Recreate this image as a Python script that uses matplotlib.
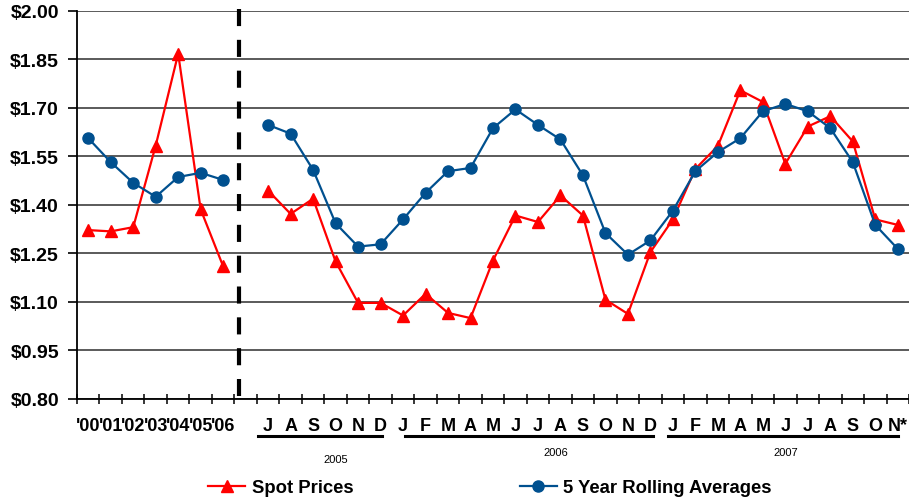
import matplotlib.pyplot as plt
import numpy as np

plt.rcParams['font.family'] = ['Liberation Sans', 'DejaVu Sans']

# categories: 7 annual values, a blank gap, then monthly values Jul 2005 - Nov 2007
year_labels = ["'00", "'01", "'02", "'03", "'04", "'05", "'06"]
month_labels = ["J", "A", "S", "O", "N", "D",
                "J", "F", "M", "A", "M", "J", "J", "A", "S", "O", "N", "D",
                "J", "F", "M", "A", "M", "J", "J", "A", "S", "O", "N*"]
labels = year_labels + [""] + month_labels

spot_years = [1.322, 1.318, 1.331, 1.583, 1.867, 1.386, 1.210]
avg_years = [1.606, 1.532, 1.468, 1.425, 1.486, 1.499, 1.477]

spot_months = [1.444, 1.372, 1.419, 1.225, 1.097, 1.097,
               1.058, 1.125, 1.066, 1.050, 1.228, 1.367, 1.347, 1.429, 1.367, 1.107, 1.063, 1.254,
               1.355, 1.511, 1.582, 1.754, 1.718, 1.527, 1.642, 1.674, 1.596, 1.355, 1.338]
avg_months = [1.647, 1.620, 1.508, 1.343, 1.271, 1.278,
              1.355, 1.437, 1.504, 1.514, 1.637, 1.695, 1.647, 1.602, 1.491, 1.313, 1.246, 1.290,
              1.382, 1.504, 1.563, 1.606, 1.689, 1.712, 1.689, 1.637, 1.532, 1.338, 1.264]

spot = np.array(spot_years + [np.nan] + spot_months)
avg = np.array(avg_years + [np.nan] + avg_months)
x = np.arange(len(labels))

red = '#FF0000'
blue = '#00508F'

fig = plt.figure(figsize=(9.09, 5.02), dpi=100)
ax = fig.add_axes([0.0847, 0.2032, 0.9153, 0.7735])

ax.plot(x, spot, color=red, lw=1.6, marker='^', markersize=9, label='Spot Prices', zorder=3)
ax.plot(x, avg, color=blue, lw=1.6, marker='o', markersize=8, label='5 Year Rolling Averages', zorder=4)

# divider between annual and monthly data (drawn top to bottom so dashes start at the top)
trans = ax.get_xaxis_transform()
ax.plot([6.72, 6.72], [1.005, 0.008], transform=trans, color='black', lw=3,
        linestyle=(0, (4.1, 3.3)), solid_capstyle='butt', dash_capstyle='butt',
        clip_on=False, zorder=5)

ax.set_xlim(-0.5, len(labels) - 0.5)
ax.set_ylim(0.80, 2.00)
yt = np.arange(0.80, 2.001, 0.15)
ax.set_yticks(yt)
ax.set_yticklabels(['${:.2f}'.format(v) for v in yt], fontsize=14, fontweight='bold')
ax.tick_params(axis='y', length=6.5, width=1.2, direction='out', pad=6.5)
ax.yaxis.grid(True, color='#2e2e2e', lw=1.1)
ax.set_axisbelow(True)

ax.set_xticks(x)
ax.set_xticklabels(labels, fontsize=13, fontweight='bold')
ax.tick_params(axis='x', which='major', length=0, pad=13)
ax.set_xticks(np.arange(-0.5, len(labels), 1.0), minor=True)
ax.tick_params(axis='x', which='minor', length=7, width=1.1, direction='inout')

for s in ['top', 'right']:
    ax.spines[s].set_visible(False)
for s in ['left', 'bottom']:
    ax.spines[s].set_linewidth(1.3)
    ax.spines[s].set_color('black')

# year groups under month labels
groups = [('2005', 7.54, 13.06, 11.0, -0.155),
          ('2006', 14.08, 25.1, 20.8, -0.137),
          ('2007', 25.77, 36.0, 31.0, -0.137)]
for name, x0, x1, xc, yy in groups:
    ax.plot([x0, x1], [-0.095, -0.095], transform=trans, color='black', lw=2.2, clip_on=False)
    ax.text(xc, yy, name, transform=trans, ha='center', va='center', fontsize=8)

fig.legend(loc='center', bbox_to_anchor=(0.539, 0.026), ncol=2, frameon=False,
           prop={'size': 13.3, 'weight': 'bold'}, handlelength=2.0, handletextpad=0.35,
           columnspacing=9.0, borderaxespad=0)

fig.savefig('out.png', dpi=100)
